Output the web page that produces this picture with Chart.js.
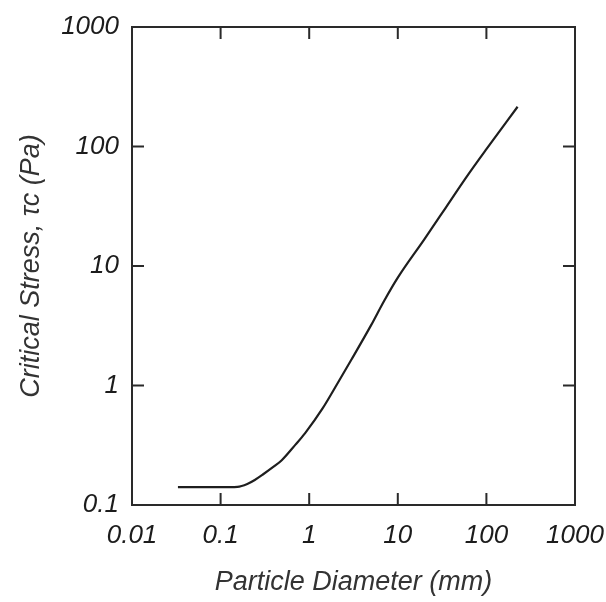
<!DOCTYPE html>
<html>
<head>
<meta charset="utf-8">
<script src="https://cdn.jsdelivr.net/npm/chart.js@4/dist/chart.umd.min.js"></script>
<style>
    html, body { margin: 0; padding: 0; background: #fff; }
</style>
</head>
<body>
<canvas id="chart" width="606" height="602"></canvas>
<script>
// particle diameter (mm) and critical shear stress (Pa)
const diameterMm = [0.033, 0.1, 0.155, 0.2, 0.243, 0.3, 0.4, 0.49, 0.7, 0.9, 1.41, 2.1, 3, 5, 7, 10, 20, 35, 60, 100, 225];
const stressPa   = [0.141, 0.141, 0.142, 0.15, 0.162, 0.18, 0.21, 0.237, 0.32, 0.40, 0.64, 1.05, 1.65, 3.2, 5.1, 8, 16.8, 31, 56, 95, 215];

const xTickValues = [0.01, 0.1, 1, 10, 100, 1000];
const yTickValues = [0.1, 1, 10, 100, 1000];

const labelFont = { family: "'Liberation Sans', Arial, sans-serif", size: 26, style: "italic" };

// box round the plot with short inward ticks on every side
const frameTicks = {
    id: "frameTicks",
    afterDatasetsDraw(chart) {
        const { ctx, chartArea: a, scales: { x, y } } = chart;
        const len = 12;
        ctx.save();
        ctx.strokeStyle = "#2a2a2a";
        ctx.lineWidth = 2;
        ctx.strokeRect(a.left, a.top, a.right - a.left, a.bottom - a.top);
        ctx.beginPath();
        xTickValues.slice(1, -1).forEach(v => {
            const px = x.getPixelForValue(v);
            ctx.moveTo(px, a.bottom); ctx.lineTo(px, a.bottom - len);
            ctx.moveTo(px, a.top); ctx.lineTo(px, a.top + len);
        });
        yTickValues.slice(1, -1).forEach(v => {
            const py = y.getPixelForValue(v);
            ctx.moveTo(a.left, py); ctx.lineTo(a.left + len, py);
            ctx.moveTo(a.right, py); ctx.lineTo(a.right - len, py);
        });
        ctx.stroke();
        ctx.restore();
    }
};

const points = diameterMm.map((d, i) => ({ x: d, y: stressPa[i] }));

new Chart(document.getElementById("chart").getContext("2d"), {
    type: "scatter",
    data: {
        datasets: [{
            data: points,
            showLine: true,
            borderColor: "#1e1e1e",
            borderWidth: 2.2,
            pointRadius: 0,
            cubicInterpolationMode: "monotone"
        }]
    },
    options: {
        responsive: false,
        animation: false,
        layout: { padding: { left: 0, right: 31, top: 27, bottom: 0 } },
        plugins: {
            legend: { display: false },
            tooltip: { enabled: false }
        },
        scales: {
            x: {
                type: "logarithmic",
                min: 0.01,
                max: 1000,
                afterBuildTicks: axis => { axis.ticks = xTickValues.map(v => ({ value: v })); },
                afterFit: axis => {
                    axis.height = 97;
                    axis.paddingLeft = 0;
                    axis.paddingRight = 0;
                },
                grid: { display: false, drawTicks: false },
                border: { display: false },
                ticks: {
                    autoSkip: false,
                    maxRotation: 0,
                    padding: 15,
                    color: "#1c1c1c",
                    font: labelFont,
                    callback: v => v.toString()
                },
                title: {
                    display: true,
                    text: "Particle Diameter (mm)",
                    color: "#333",
                    font: { ...labelFont, size: 27 },
                    padding: { top: 0, bottom: 3 }
                }
            },
            y: {
                type: "logarithmic",
                min: 0.1,
                max: 1000,
                afterBuildTicks: axis => { axis.ticks = yTickValues.map(v => ({ value: v })); },
                afterFit: axis => {
                    axis.width = 132;
                    axis.paddingTop = 0;
                    axis.paddingBottom = 0;
                },
                grid: { display: false, drawTicks: false },
                border: { display: false },
                ticks: {
                    autoSkip: false,
                    padding: 13,
                    color: "#1c1c1c",
                    font: labelFont,
                    callback: v => v.toString()
                },
                title: {
                    display: true,
                    text: "Critical Stress, τc (Pa)",
                    color: "#333",
                    font: { ...labelFont, size: 27 },
                    padding: { top: 15, bottom: 0 }
                }
            }
        }
    },
    plugins: [frameTicks]
});
</script>
</body>
</html>
